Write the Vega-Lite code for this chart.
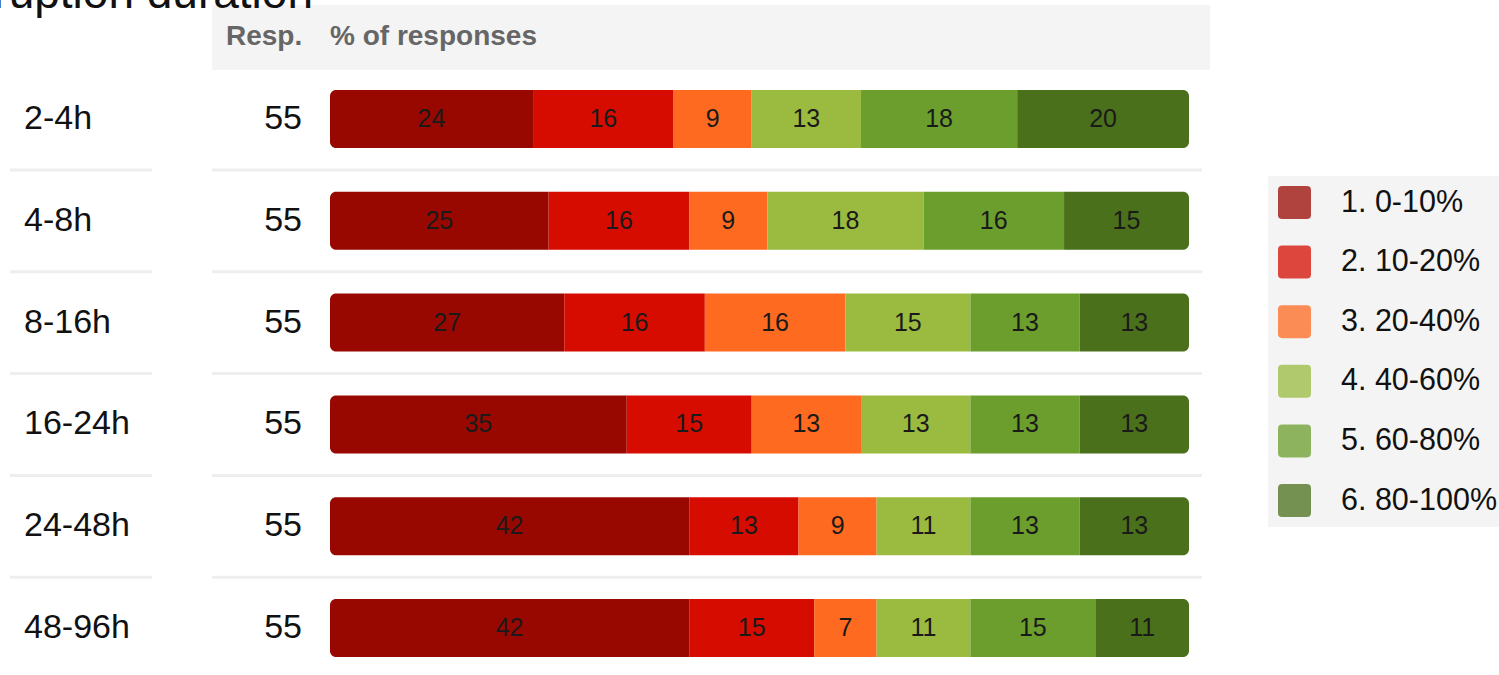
{
  "$schema": "https://vega.github.io/schema/vega-lite/v6.json",
  "width": 1499,
  "height": 675,
  "padding": 0,
  "autosize": {"type": "none"},
  "background": "white",
  "config": {"view": {"stroke": null}, "font": "Liberation Sans", "scale": {"continuousPadding": 0}},
  "datasets": {
    "cells": [
      {"dur": "2-4h", "row": 1, "cls": "1. 0-10%", "n": 13, "pct": 24},
      {"dur": "2-4h", "row": 1, "cls": "2. 10-20%", "n": 9, "pct": 16},
      {"dur": "2-4h", "row": 1, "cls": "3. 20-40%", "n": 5, "pct": 9},
      {"dur": "2-4h", "row": 1, "cls": "4. 40-60%", "n": 7, "pct": 13},
      {"dur": "2-4h", "row": 1, "cls": "5. 60-80%", "n": 10, "pct": 18},
      {"dur": "2-4h", "row": 1, "cls": "6. 80-100%", "n": 11, "pct": 20},
      {"dur": "4-8h", "row": 2, "cls": "1. 0-10%", "n": 14, "pct": 25},
      {"dur": "4-8h", "row": 2, "cls": "2. 10-20%", "n": 9, "pct": 16},
      {"dur": "4-8h", "row": 2, "cls": "3. 20-40%", "n": 5, "pct": 9},
      {"dur": "4-8h", "row": 2, "cls": "4. 40-60%", "n": 10, "pct": 18},
      {"dur": "4-8h", "row": 2, "cls": "5. 60-80%", "n": 9, "pct": 16},
      {"dur": "4-8h", "row": 2, "cls": "6. 80-100%", "n": 8, "pct": 15},
      {"dur": "8-16h", "row": 3, "cls": "1. 0-10%", "n": 15, "pct": 27},
      {"dur": "8-16h", "row": 3, "cls": "2. 10-20%", "n": 9, "pct": 16},
      {"dur": "8-16h", "row": 3, "cls": "3. 20-40%", "n": 9, "pct": 16},
      {"dur": "8-16h", "row": 3, "cls": "4. 40-60%", "n": 8, "pct": 15},
      {"dur": "8-16h", "row": 3, "cls": "5. 60-80%", "n": 7, "pct": 13},
      {"dur": "8-16h", "row": 3, "cls": "6. 80-100%", "n": 7, "pct": 13},
      {"dur": "16-24h", "row": 4, "cls": "1. 0-10%", "n": 19, "pct": 35},
      {"dur": "16-24h", "row": 4, "cls": "2. 10-20%", "n": 8, "pct": 15},
      {"dur": "16-24h", "row": 4, "cls": "3. 20-40%", "n": 7, "pct": 13},
      {"dur": "16-24h", "row": 4, "cls": "4. 40-60%", "n": 7, "pct": 13},
      {"dur": "16-24h", "row": 4, "cls": "5. 60-80%", "n": 7, "pct": 13},
      {"dur": "16-24h", "row": 4, "cls": "6. 80-100%", "n": 7, "pct": 13},
      {"dur": "24-48h", "row": 5, "cls": "1. 0-10%", "n": 23, "pct": 42},
      {"dur": "24-48h", "row": 5, "cls": "2. 10-20%", "n": 7, "pct": 13},
      {"dur": "24-48h", "row": 5, "cls": "3. 20-40%", "n": 5, "pct": 9},
      {"dur": "24-48h", "row": 5, "cls": "4. 40-60%", "n": 6, "pct": 11},
      {"dur": "24-48h", "row": 5, "cls": "5. 60-80%", "n": 7, "pct": 13},
      {"dur": "24-48h", "row": 5, "cls": "6. 80-100%", "n": 7, "pct": 13},
      {"dur": "48-96h", "row": 6, "cls": "1. 0-10%", "n": 23, "pct": 42},
      {"dur": "48-96h", "row": 6, "cls": "2. 10-20%", "n": 8, "pct": 15},
      {"dur": "48-96h", "row": 6, "cls": "3. 20-40%", "n": 4, "pct": 7},
      {"dur": "48-96h", "row": 6, "cls": "4. 40-60%", "n": 6, "pct": 11},
      {"dur": "48-96h", "row": 6, "cls": "5. 60-80%", "n": 8, "pct": 15},
      {"dur": "48-96h", "row": 6, "cls": "6. 80-100%", "n": 6, "pct": 11}
    ],
    "rows": [
      {"dur": "2-4h", "row": 1, "resp": 55},
      {"dur": "4-8h", "row": 2, "resp": 55},
      {"dur": "8-16h", "row": 3, "resp": 55},
      {"dur": "16-24h", "row": 4, "resp": 55},
      {"dur": "24-48h", "row": 5, "resp": 55},
      {"dur": "48-96h", "row": 6, "resp": 55}
    ],
    "one": [{"title": "Interruption duration", "h1": "Resp.", "h2": "% of responses"}]
  },
  "layer": [
    {
      "data": {"name": "one"},
      "mark": {"type": "rect", "color": "#f4f4f4"},
      "encoding": {
        "x": {"datum": -0.13737, "type": "quantitative", "scale": {"domain": [-0.38417, 1.36088], "nice": false, "zero": false, "padding": 0}, "axis": null},
        "x2": {"datum": 1.02445},
        "y": {"datum": -0.11984, "type": "quantitative", "scale": {"domain": [-0.16896, 6.46169], "reverse": true, "nice": false, "zero": false, "padding": 0}, "axis": null},
        "y2": {"datum": 0.51866}
      }
    },
    {
      "data": {"name": "one"},
      "mark": {"type": "text", "align": "left", "baseline": "middle", "fontSize": 28, "fontWeight": "bold", "color": "#666666"},
      "encoding": {
        "x": {"datum": -0.12107, "type": "quantitative", "scale": {"domain": [-0.38417, 1.36088], "nice": false, "zero": false, "padding": 0}, "axis": null},
        "y": {"datum": 0.1945, "type": "quantitative", "scale": {"domain": [-0.16896, 6.46169], "reverse": true, "nice": false, "zero": false, "padding": 0}, "axis": null},
        "text": {"field": "h1"}
      }
    },
    {
      "data": {"name": "one"},
      "mark": {"type": "text", "align": "left", "baseline": "middle", "fontSize": 28, "fontWeight": "bold", "color": "#666666"},
      "encoding": {
        "x": {"datum": 0, "type": "quantitative", "scale": {"domain": [-0.38417, 1.36088], "nice": false, "zero": false, "padding": 0}, "axis": null},
        "y": {"datum": 0.1945, "type": "quantitative", "scale": {"domain": [-0.16896, 6.46169], "reverse": true, "nice": false, "zero": false, "padding": 0}, "axis": null},
        "text": {"field": "h2"}
      }
    },
    {
      "data": {"name": "one"},
      "mark": {"type": "text", "align": "right", "baseline": "alphabetic", "fontSize": 46, "color": "#111111"},
      "encoding": {
        "x": {"datum": -0.01979, "type": "quantitative", "scale": {"domain": [-0.38417, 1.36088], "nice": false, "zero": false, "padding": 0}, "axis": null},
        "y": {"datum": -0.09037, "type": "quantitative", "scale": {"domain": [-0.16896, 6.46169], "reverse": true, "nice": false, "zero": false, "padding": 0}, "axis": null},
        "text": {"field": "title"}
      }
    },
    {
      "data": {"name": "rows"},
      "transform": [{"filter": "datum.row <= 5"}],
      "mark": {"type": "rule", "color": "#eeeeee", "strokeWidth": 3, "yOffset": 51},
      "encoding": {
        "x": {"datum": -0.37253, "type": "quantitative", "scale": {"domain": [-0.38417, 1.36088], "nice": false, "zero": false, "padding": 0}, "axis": null},
        "x2": {"datum": -0.20722},
        "y": {"field": "row", "type": "quantitative", "scale": {"domain": [-0.16896, 6.46169], "reverse": true, "nice": false, "zero": false, "padding": 0}, "axis": null}
      }
    },
    {
      "data": {"name": "rows"},
      "transform": [{"filter": "datum.row <= 5"}],
      "mark": {"type": "rule", "color": "#eeeeee", "strokeWidth": 3, "yOffset": 51},
      "encoding": {
        "x": {"datum": -0.13737, "type": "quantitative", "scale": {"domain": [-0.38417, 1.36088], "nice": false, "zero": false, "padding": 0}, "axis": null},
        "x2": {"datum": 1.01513},
        "y": {"field": "row", "type": "quantitative", "scale": {"domain": [-0.16896, 6.46169], "reverse": true, "nice": false, "zero": false, "padding": 0}, "axis": null}
      }
    },
    {
      "data": {"name": "rows"},
      "mark": {"type": "text", "align": "left", "baseline": "middle", "fontSize": 34, "color": "#111111"},
      "encoding": {
        "x": {"datum": -0.35623, "type": "quantitative", "scale": {"domain": [-0.38417, 1.36088], "nice": false, "zero": false, "padding": 0}, "axis": null},
        "y": {"field": "row", "type": "quantitative", "scale": {"domain": [-0.16896, 6.46169], "reverse": true, "nice": false, "zero": false, "padding": 0}, "axis": null},
        "text": {"field": "dur"}
      }
    },
    {
      "data": {"name": "rows"},
      "mark": {"type": "text", "align": "right", "baseline": "middle", "fontSize": 34, "color": "#111111"},
      "encoding": {
        "x": {"datum": -0.0326, "type": "quantitative", "scale": {"domain": [-0.38417, 1.36088], "nice": false, "zero": false, "padding": 0}, "axis": null},
        "y": {"field": "row", "type": "quantitative", "scale": {"domain": [-0.16896, 6.46169], "reverse": true, "nice": false, "zero": false, "padding": 0}, "axis": null},
        "text": {"field": "resp"}
      }
    },
    {
      "data": {"name": "cells"},
      "transform": [
        {"stack": "n", "groupby": ["row"], "offset": "normalize", "sort": [{"field": "cls", "order": "ascending"}], "as": ["x0", "x1"]}
      ],
      "layer": [
        {
          "transform": [{"filter": "datum.cls == '1. 0-10%'"}],
          "mark": {"type": "bar", "orient": "horizontal", "size": 58, "cornerRadiusTopLeft": 6, "cornerRadiusBottomLeft": 6},
          "encoding": {
            "x": {"field": "x0", "type": "quantitative", "scale": {"domain": [-0.38417, 1.36088], "nice": false, "zero": false, "padding": 0}, "axis": null},
            "x2": {"field": "x1"},
            "y": {"field": "row", "type": "quantitative", "scale": {"domain": [-0.16896, 6.46169], "reverse": true, "nice": false, "zero": false, "padding": 0}, "axis": null},
            "color": {"field": "cls", "type": "nominal",
              "scale": {"domain": ["1. 0-10%", "2. 10-20%", "3. 20-40%", "4. 40-60%", "5. 60-80%", "6. 80-100%"], "range": ["#990800", "#d60c00", "#ff6a21", "#9abb40", "#6c9e2e", "#4b701b"]},
              "legend": {"title": null, "orient": "none", "legendX": 1268, "legendY": 176, "fillColor": "#f4f4f4", "padding": 10,
                "symbolType": "M -0.75,-1 H 0.75 Q 1,-1 1,-0.75 V 0.75 Q 1,1 0.75,1 H -0.75 Q -1,1 -1,0.75 V -0.75 Q -1,-1 -0.75,-1 Z",
                "symbolSize": 1089, "symbolOpacity": 0.75, "symbolStrokeWidth": 0, "labelFontSize": 30.5, "labelColor": "#111111", "labelOffset": 30, "rowPadding": 26.6, "labelLimit": 300}}
          }
        },
        {
          "transform": [{"filter": "datum.cls != '1. 0-10%' && datum.cls != '6. 80-100%'"}],
          "mark": {"type": "bar", "orient": "horizontal", "size": 58},
          "encoding": {
            "x": {"field": "x0", "type": "quantitative", "scale": {"domain": [-0.38417, 1.36088], "nice": false, "zero": false, "padding": 0}, "axis": null},
            "x2": {"field": "x1"},
            "y": {"field": "row", "type": "quantitative", "scale": {"domain": [-0.16896, 6.46169], "reverse": true, "nice": false, "zero": false, "padding": 0}, "axis": null},
            "color": {"field": "cls", "type": "nominal"}
          }
        },
        {
          "transform": [{"filter": "datum.cls == '6. 80-100%'"}],
          "mark": {"type": "bar", "orient": "horizontal", "size": 58, "cornerRadiusTopRight": 6, "cornerRadiusBottomRight": 6},
          "encoding": {
            "x": {"field": "x0", "type": "quantitative", "scale": {"domain": [-0.38417, 1.36088], "nice": false, "zero": false, "padding": 0}, "axis": null},
            "x2": {"field": "x1"},
            "y": {"field": "row", "type": "quantitative", "scale": {"domain": [-0.16896, 6.46169], "reverse": true, "nice": false, "zero": false, "padding": 0}, "axis": null},
            "color": {"field": "cls", "type": "nominal"}
          }
        }
      ]
    },
    {
      "data": {"name": "cells"},
      "mark": {"type": "text", "align": "center", "baseline": "middle", "fontSize": 25, "color": "#1a1a1a"},
      "encoding": {
        "x": {"field": "n", "type": "quantitative", "stack": "normalize", "bandPosition": 0.5, "scale": {"domain": [-0.38417, 1.36088], "nice": false, "zero": false, "padding": 0}, "axis": null},
        "y": {"field": "row", "type": "quantitative", "scale": {"domain": [-0.16896, 6.46169], "reverse": true, "nice": false, "zero": false, "padding": 0}, "axis": null},
        "order": {"field": "cls"},
        "text": {"field": "pct", "type": "quantitative"}
      }
    }
  ]
}
